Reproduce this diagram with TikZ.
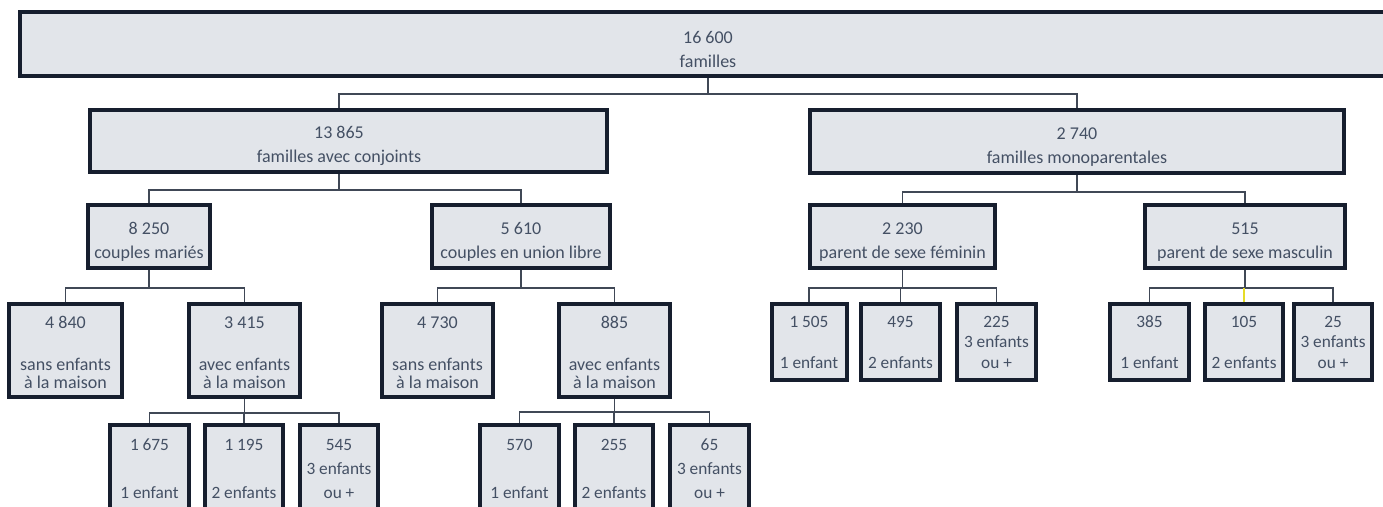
\documentclass[tikz,border=0pt]{standalone}
\usepackage{fontspec}
\setmainfont{Carlito}
\definecolor{boxfill}{RGB}{226,229,234}
\definecolor{boxline}{RGB}{22,30,46}
\definecolor{txt}{RGB}{68,80,100}
\definecolor{lineclr}{RGB}{64,72,86}
\definecolor{connyellow}{RGB}{230,220,40}
\newcommand{\upA}{\rule{0pt}{23pt}}
\newcommand{\upB}{\rule{0pt}{17pt}}
\begin{document}
\begin{tikzpicture}[x=1pt,y=-1pt,
  orgbox/.style={draw=boxline, fill=boxfill, line width=4pt, inner sep=0pt, text=txt, align=center},
  fA/.style={font=\fontsize{18}{24}\selectfont},
  fB/.style={font=\fontsize{18}{18}\selectfont},
  fC/.style={font=\fontsize{17.3}{20.5}\selectfont},
  fD/.style={font=\fontsize{17.3}{24}\selectfont},
  conn/.style={draw=lineclr, line width=1.4pt}]
\useasboundingbox (0,0) rectangle (1383,506);
\clip (0,0) rectangle (1383,506);
% level 1
\node[orgbox, fA, minimum width=1376pt, minimum height=64pt] (ntop) at (708,44) {\upA16 600\\familles};
% level 2
\node[orgbox, fA, minimum width=517pt, minimum height=62pt] (n13865) at (348.5,141) {\hspace*{-19pt}\upA13 865\\\hspace*{-19pt}familles avec conjoints};
\node[orgbox, fA, minimum width=534pt, minimum height=63pt] (n2740) at (1077,141.5) {\upA2 740\\familles monoparentales};
% level 3
\node[orgbox, fA, minimum width=122pt, minimum height=63pt] (n8250) at (149,236.5) {\upA8 250\\couples mariés};
\node[orgbox, fA, minimum width=178pt, minimum height=63pt] (n5610) at (521,236.5) {\upA5 610\\couples en union libre};
\node[orgbox, fA, minimum width=185pt, minimum height=63pt] (n2230) at (902.5,236.5) {\upA2 230\\parent de sexe féminin};
\node[orgbox, fA, minimum width=200pt, minimum height=63pt] (n515) at (1245,236.5) {\upA515\\parent de sexe masculin};
% level 4 left
\node[orgbox, fB, minimum width=113pt, minimum height=93pt] (n4840) at (65.5,350.5) {\upB4 840\\[24pt]sans enfants\\à la maison};
\node[orgbox, fB, minimum width=111pt, minimum height=93pt] (n3415) at (244.5,350.5) {\upB3 415\\[24pt]avec enfants\\à la maison};
\node[orgbox, fB, minimum width=111pt, minimum height=93pt] (n4730) at (437.5,350.5) {\upB4 730\\[24pt]sans enfants\\à la maison};
\node[orgbox, fB, minimum width=111pt, minimum height=93pt] (n885) at (614.5,350.5) {\upB885\\[24pt]avec enfants\\à la maison};
% level 4 right
\node[orgbox, fC, minimum width=75pt, minimum height=76pt] (n1505) at (809,342) {1 505\\[20.5pt]1 enfant};
\node[orgbox, fC, minimum width=79pt, minimum height=76pt] (n495) at (900.5,342) {495\\[20.5pt]2 enfants};
\node[orgbox, fC, minimum width=79pt, minimum height=76pt] (n225) at (996.5,342) {225\\3 enfants\\ou +};
\node[orgbox, fC, minimum width=79pt, minimum height=76pt] (n385) at (1149.5,342) {385\\[20.5pt]1 enfant};
\node[orgbox, fC, minimum width=78pt, minimum height=76pt] (n105) at (1244,342) {105\\[20.5pt]2 enfants};
\node[orgbox, fC, minimum width=78pt, minimum height=76pt] (n25) at (1333,342) {25\\3 enfants\\ou +};
% level 5
\node[orgbox, fD, minimum width=79pt, minimum height=88pt] (n1675) at (149.5,469) {1 675\\[24pt]1 enfant};
\node[orgbox, fD, minimum width=78pt, minimum height=88pt] (n1195) at (244,469) {1 195\\[24pt]2 enfants};
\node[orgbox, fD, minimum width=78pt, minimum height=88pt] (n545) at (339,469) {545\\3 enfants\\ou +};
\node[orgbox, fD, minimum width=79pt, minimum height=88pt] (n570) at (519.5,469) {570\\[24pt]1 enfant};
\node[orgbox, fD, minimum width=78pt, minimum height=88pt] (n255) at (614,469) {255\\[24pt]2 enfants};
\node[orgbox, fD, minimum width=79pt, minimum height=88pt] (n65) at (709.5,469) {65\\3 enfants\\ou +};
% connectors
\draw[conn] (ntop.south) -- (ntop.south |- 0,94);
\draw[conn] ([xshift=-9.5pt]n13865.north) |- (n2740.north |- 0,94) -- (n2740.north);
\draw[conn] ([xshift=-9.5pt]n13865.south) -- ([xshift=-9.5pt]n13865.south |- 0,190);
\draw[conn] (n8250.north) |- (n5610.north |- 0,190) -- (n5610.north);
\draw[conn] (n8250.south) -- (n8250.south |- 0,288);
\draw[conn] (n4840.north) |- (n3415.north |- 0,288) -- (n3415.north);
\draw[conn] (n5610.south) -- (n5610.south |- 0,288);
\draw[conn] (n4730.north) |- (n885.north |- 0,288) -- (n885.north);
\draw[conn] (n3415.south) -- (n3415.south |- 0,413);
\draw[conn] (n1675.north) |- (n545.north |- 0,413) -- (n545.north);
\draw[conn] (n1195.north) -- (n1195.north |- 0,413);
\draw[conn] (n885.south) -- (n885.south |- 0,412);
\draw[conn] (n570.north) |- (n65.north |- 0,412) -- (n65.north);
\draw[conn] (n255.north) -- (n255.north |- 0,412);
\draw[conn] (n2740.south) -- (n2740.south |- 0,192);
\draw[conn] (n2230.north) |- (n515.north |- 0,192) -- (n515.north);
\draw[conn] (n2230.south) -- (n2230.south |- 0,288);
\draw[conn] (n1505.north) |- (n225.north |- 0,288) -- (n225.north);
\draw[conn] (n495.north) -- (n495.north |- 0,288);
\draw[conn] (n515.south) -- (n515.south |- 0,288);
\draw[conn] (n385.north) |- (n25.north |- 0,288) -- (n25.north);
\draw[conn, draw=connyellow] (n105.north) -- (n105.north |- 0,288);
\end{tikzpicture}
\end{document}
